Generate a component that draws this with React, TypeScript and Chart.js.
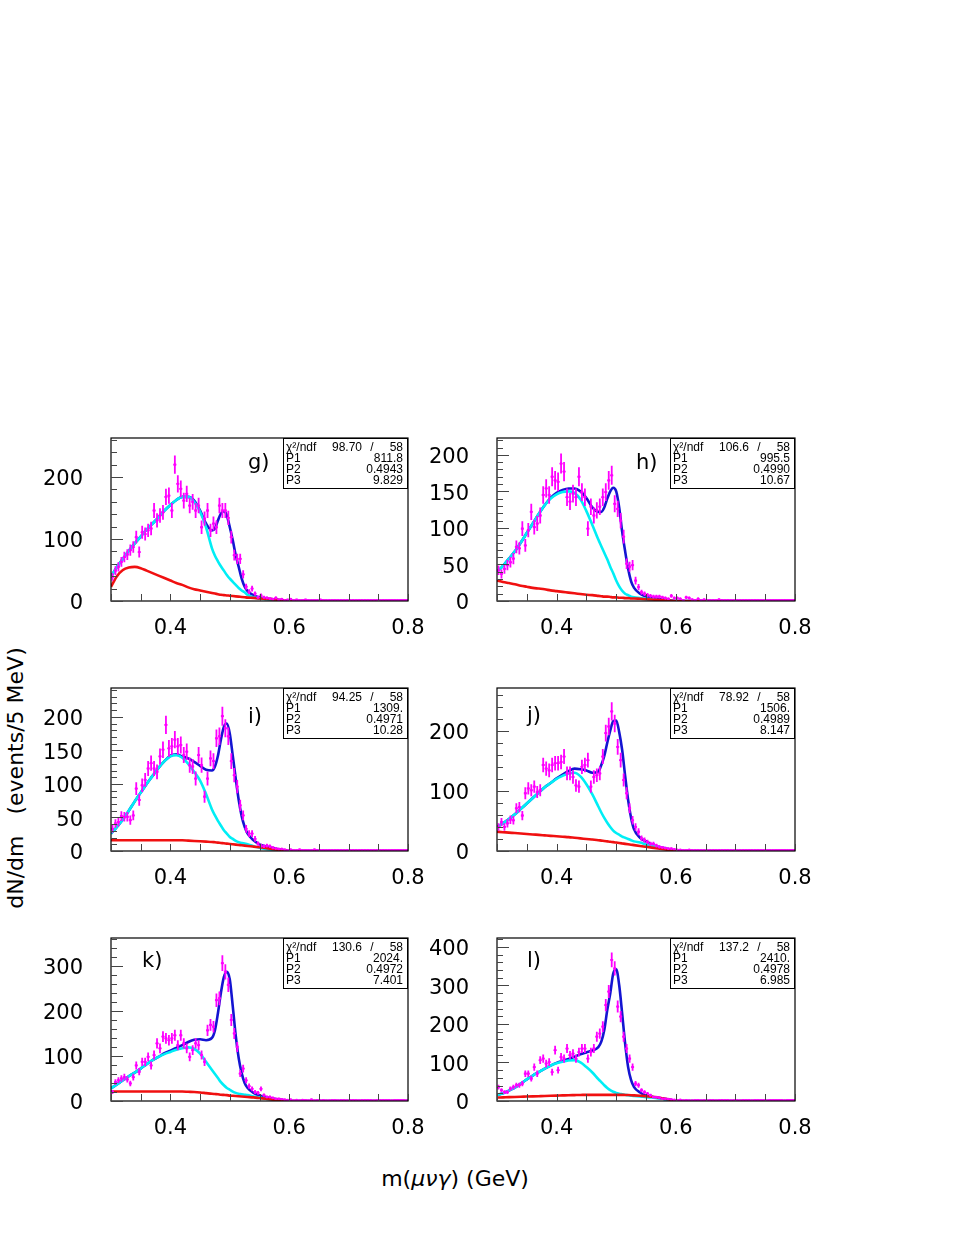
import React, { useEffect, useRef } from "react";
import { Chart, registerables } from "chart.js";

Chart.register(...registerables);

// ---------------- data ----------------
const BIN_START = 0.3;
const BIN_WIDTH = 0.005;
const X_MIN = 0.3;
const X_MAX = 0.8;
const X_TICK_LABELS = [0.4, 0.6, 0.8];

const CURVE_X = [0.30, 0.31, 0.32, 0.33, 0.34, 0.35, 0.36, 0.37, 0.38, 0.39, 0.40, 0.41, 0.42, 0.43, 0.44, 0.45, 0.46, 0.47, 0.475, 0.48, 0.485, 0.49, 0.495, 0.50, 0.505, 0.51, 0.515, 0.52, 0.525, 0.53, 0.54, 0.55, 0.56, 0.57, 0.58, 0.59, 0.60, 0.65, 0.70, 0.80];

// panel g
const G_DATA = [39, 49, 55, 63, 71, 75, 82, 87, 103, 79, 111, 108, 114, 117, 146, 130, 138, 143, 168, 170, 146, 220, 189, 181, 162, 173, 154, 160, 146, 154, 119, 133, 146, 114, 125, 119, 154, 146, 146, 134, 103, 74, 68, 68, 43, 23, 15, 20, 12, 6, 9, 6, 5,
  4, 3, 5, 2, 3, 1, 2, 3, 1, 2, 1, 0, 2, 1, 1, 0, 1, 2, 0, 1, 1, 0, 0, 1, 0, 1, 0, 0, 1, 0, 0, 0, 1, 0, 0, 0, 0, 1, 0, 0, 0, 0, 0, 1, 0, 0, 0];
const G_CYAN = [39, 55, 68, 81, 93, 104, 115, 125, 135, 146, 155, 163, 168, 168, 160, 144, 119, 85, 73, 64, 56, 49, 42, 36, 31, 26, 21, 17, 14, 10, 6, 4, 3, 2, 1, 1, 0, 0, 0, 0];
const G_BLUE = [39, 55, 68, 81, 93, 104, 115, 125, 135, 146, 155, 163, 168, 168, 162, 146, 125, 114, 117, 130, 141, 145, 138, 119, 98, 74, 55, 36, 23, 16, 9, 6, 4, 3, 2, 1, 0, 0, 0, 0];
const G_RED = [23, 40, 50, 54, 55, 53, 49, 45, 41, 37, 33, 29, 26, 22, 19, 17, 15, 13, 12, 11, 10, 9.5, 9, 8.5, 8, 7.5, 7, 6.5, 6, 5.5, 5, 4, 3.5, 3, 2, 1, 0.5, 0, 0, 0];
const G_YTICKS = [0, 100, 200];
const G_STATS = ["98.70", "58", "811.8", "0.4943", "9.829"];

// panel h
const H_DATA = [42, 37, 44, 49, 53, 58, 74, 72, 99, 76, 97, 122, 101, 106, 117, 145, 154, 145, 170, 165, 163, 188, 177, 142, 136, 147, 142, 170, 149, 142, 99, 129, 117, 124, 129, 142, 149, 165, 172, 133, 126, 110, 88, 51, 47, 49, 28, 19, 12, 10, 8, 7, 6, 6, 6, 5, 4, 3, 7, 4, 4, 3, 1, 5, 4,
  2, 1, 3, 1, 2, 0, 1, 1, 0, 2, 1, 0, 1, 0, 0, 1, 0, 0, 1, 0, 0, 1, 0, 0, 0, 1, 0, 0, 0, 0, 0, 1, 0, 0, 1];
const H_CYAN = [40, 48, 58, 68, 80, 93, 106, 119, 131, 140, 146, 149, 150, 148, 139, 123, 104, 84, 75, 66, 57, 47, 38, 28, 20, 14, 10, 8, 6, 5, 4, 3, 2, 1, 1, 0, 0, 0, 0, 0];
const H_BLUE = [40, 48, 58, 68, 80, 93, 106, 119, 131, 141, 148, 152, 154, 154, 150, 141, 128, 122, 122, 128, 140, 150, 155, 150, 128, 95, 68, 44, 27, 18, 10, 6, 4, 3, 2, 1, 0, 0, 0, 0];
const H_RED = [28, 26, 24.5, 23, 21, 19.5, 18, 17, 16, 14.5, 13.5, 12.5, 11.5, 10.5, 9.5, 8.5, 8, 7, 6.5, 6, 6, 5.5, 5, 5, 4.5, 4.5, 4, 4, 3.5, 3.5, 3, 2.5, 2, 1.5, 1, 0.5, 0, 0, 0, 0];
const H_YTICKS = [0, 50, 100, 150, 200];
const H_STATS = ["106.6", "58", "995.5", "0.4990", "10.67"];

// panel i
const I_DATA = [33, 41, 43, 52, 51, 51, 46, 53, 93, 76, 98, 106, 123, 131, 123, 118, 141, 151, 188, 153, 156, 166, 156, 158, 143, 148, 128, 126, 108, 143, 128, 81, 108, 138, 134, 168, 171, 201, 183, 171, 134, 113, 96, 68, 53, 33, 26, 26, 18, 11, 8, 7, 8, 7, 5, 4, 3,
  3, 2, 1, 2, 0, 1, 2, 1, 0, 1, 1, 2, 0, 1, 0, 1, 0, 1, 0, 0, 1, 0, 1, 0, 0, 1, 0, 0, 0, 1, 0, 0, 1, 0, 0, 0, 1, 0, 0, 0, 0, 1, 0];
const I_CYAN = [26, 36, 47, 60, 74, 87, 100, 112, 124, 134, 141, 143, 139, 130, 118, 105, 85, 62, 53, 45, 38, 31, 26, 21, 18, 15, 13, 12, 11, 10, 7, 5, 3, 2, 1, 0.5, 0, 0, 0, 0];
const I_BLUE = [26, 36, 47, 60, 74, 87, 100, 112, 124, 134, 142, 144, 141, 138, 133, 127, 121, 120, 126, 142, 166, 185, 190, 175, 142, 108, 76, 52, 36, 26, 16, 10, 7, 5, 3, 1.5, 0, 0, 0, 0];
const I_RED = [16, 16, 16, 16, 16, 16, 16, 16, 16, 16, 16, 16, 16, 15.5, 15, 14.5, 14, 13.5, 13, 12.5, 12, 11.5, 11, 10.5, 10, 9.5, 9, 8.5, 8, 7.5, 6.5, 5.5, 4.5, 3, 2, 1, 0, 0, 0, 0];
const I_YTICKS = [0, 50, 100, 150, 200];
const I_STATS = ["94.25", "58", "1309.", "0.4971", "10.28"];

// panel j
const J_DATA = [40, 48, 40, 46, 52, 51, 71, 73, 59, 96, 104, 101, 107, 98, 101, 143, 137, 134, 143, 146, 146, 148, 157, 129, 129, 123, 109, 107, 140, 143, 151, 107, 123, 126, 129, 157, 196, 207, 232, 212, 173, 151, 118, 96, 71, 51, 40, 32, 21, 18, 15, 12, 12, 9, 7, 6, 5, 4, 4,
  3, 2, 2, 1, 0, 2, 1, 1, 0, 1, 0, 1, 1, 0, 0, 1, 0, 0, 0, 1, 0, 0, 1, 0, 0, 0, 0, 1, 0, 0, 0, 0, 0, 1, 0, 0, 0, 0, 1, 0, 0];
const J_CYAN = [40, 46, 53, 61, 70, 79, 88, 97, 106, 113, 120, 125, 129, 130, 124, 111, 94, 74, 64, 55, 47, 40, 34, 30, 27, 24, 22, 20, 18, 16, 14, 11, 9, 7, 5, 2.5, 0, 0, 0, 0];
const J_BLUE = [40, 46, 53, 61, 70, 79, 88, 97, 106, 113, 121, 127, 133, 137, 136, 134, 130, 132, 143, 158, 180, 200, 216, 217, 198, 168, 125, 85, 55, 36, 22, 16, 11, 7, 5, 2.5, 0, 0, 0, 0];
const J_RED = [32, 31.3, 30.5, 29.8, 29, 28.3, 27.5, 26.8, 26, 25.2, 24.5, 23.7, 23, 22, 21, 20, 19, 18, 17.3, 16.7, 16, 15.3, 14.7, 14, 13.3, 12.6, 11.9, 11.2, 10.5, 9.8, 8.4, 7, 5.6, 4.2, 2.8, 1.4, 0, 0, 0, 0];
const J_YTICKS = [0, 100, 200];
const J_STATS = ["78.92", "58", "1506.", "0.4989", "8.147"];

// panel k
const K_DATA = [20, 42, 46, 50, 53, 48, 39, 53, 79, 65, 87, 87, 98, 79, 102, 128, 117, 143, 139, 135, 139, 146, 124, 146, 128, 117, 98, 113, 128, 124, 102, 87, 157, 169, 165, 224, 228, 306, 287, 258, 180, 150, 120, 61, 72, 46, 33, 27, 20, 18, 27, 13, 9, 9, 7, 5, 5,
  4, 3, 2, 3, 1, 2, 1, 2, 0, 1, 3, 1, 0, 1, 0, 1, 1, 0, 0, 1, 0, 0, 1, 0, 0, 0, 1, 0, 0, 0, 0, 1, 0, 0, 0, 0, 0, 1, 0, 0, 0, 0, 1];
const K_CYAN = [28, 37, 46, 55, 63, 72, 82, 91, 98, 104, 109, 114, 117, 119, 116, 105, 87, 69, 60, 51, 42, 35, 29, 25, 21, 18, 16, 15, 14, 13, 10, 8, 5, 3.5, 2, 1, 0, 0, 0, 0];
const K_BLUE = [28, 37, 46, 55, 63, 72, 82, 91, 98, 106, 112, 118, 124, 131, 136, 137, 135, 140, 157, 195, 240, 275, 287, 270, 210, 145, 95, 62, 40, 29, 18, 12, 9, 6, 4, 2, 0, 0, 0, 0];
const K_RED = [21, 21, 21, 21, 21, 21, 21, 21, 21, 21, 21, 21, 21, 20.5, 20, 19, 17.5, 16, 15.5, 15, 14, 13.5, 13, 12, 11.5, 11, 10.5, 10, 9.5, 9, 8, 6.5, 5, 3.5, 2, 1, 0, 0, 0, 0];
const K_YTICKS = [0, 100, 200, 300];
const K_STATS = ["130.6", "58", "2024.", "0.4972", "7.401"];

// panel l
const L_DATA = [36, 28, 23, 23, 32, 36, 41, 41, 45, 71, 71, 58, 88, 71, 106, 110, 97, 101, 75, 132, 80, 114, 110, 136, 119, 123, 110, 127, 136, 136, 110, 127, 136, 167, 175, 193, 249, 284, 366, 344, 245, 219, 167, 136, 110, 88, 45, 41, 28, 23, 19, 15, 10, 10, 9, 6, 6,
  5, 4, 3, 2, 3, 1, 2, 1, 1, 0, 2, 1, 0, 1, 0, 0, 1, 0, 2, 0, 0, 1, 0, 0, 1, 0, 0, 0, 1, 0, 0, 0, 0, 1, 0, 0, 0, 0, 0, 1, 0, 0, 0];
const L_CYAN = [15, 20, 27, 35, 45, 56, 66, 75, 84, 92, 98, 102, 105, 106, 100, 88, 74, 57, 49, 41, 34, 28, 24, 21, 19, 17.5, 16, 15, 14, 13, 12, 10, 9, 7, 5.5, 3, 0, 0, 0, 0];
const L_BLUE = [15, 20, 27, 35, 45, 56, 66, 75, 84, 92, 99, 104, 109, 115, 121, 126, 131, 140, 154, 184, 236, 279, 331, 342, 301, 227, 149, 88, 54, 36, 22, 14, 11, 8, 5.5, 3, 0, 0, 0, 0];
const L_RED = [9, 9.5, 10, 10.5, 11, 11.5, 12, 12.5, 13, 13.5, 14, 14.5, 15, 15.3, 15.6, 16, 16, 16, 16, 16, 16, 16, 16, 16, 16, 16, 15.7, 15.4, 15, 14.5, 13.5, 12.5, 11, 9, 6.5, 3.5, 0, 0, 0, 0];
const L_YTICKS = [0, 100, 200, 300, 400];
const L_STATS = ["137.2", "58", "2410.", "0.4978", "6.985"];

// ---------------- styles / layout ----------------
const MAGENTA = "#ff00ff";
const CYAN = "#00eef5";
const BLUE = "#1414d2";
const RED = "#f01010";
const TICK_FONT = "DejaVu Sans";
const STAT_FONT = '"Liberation Sans Narrow", "Liberation Sans", Arial, sans-serif';

const AXIS_W = 81;
const AXIS_H = 60;
const PAD_T = 18;
const PAD_R = 30;

const COLS = [{ L: 111, R: 408 }, { L: 497, R: 795 }];
const ROWS = [{ T: 438, B: 601 }, { T: 688, B: 851 }, { T: 938, B: 1101 }];

type PanelDef = {
  id: string;
  data: number[];
  cyan: number[];
  blue: number[];
  red: number[];
  yMax: number;
  yTicks: number[];
  major: number;
  minor: number;
  stats: string[];
  col: number;
  row: number;
  lab: [number, number];
};

const PANELS: PanelDef[] = [
  { id: "g", data: G_DATA, cyan: G_CYAN, blue: G_BLUE, red: G_RED, yMax: 263, yTicks: G_YTICKS, major: 100, minor: 20, stats: G_STATS, col: 0, row: 0, lab: [137, 26] },
  { id: "h", data: H_DATA, cyan: H_CYAN, blue: H_BLUE, red: H_RED, yMax: 223, yTicks: H_YTICKS, major: 50, minor: 10, stats: H_STATS, col: 1, row: 0, lab: [139, 26] },
  { id: "i", data: I_DATA, cyan: I_CYAN, blue: I_BLUE, red: I_RED, yMax: 243, yTicks: I_YTICKS, major: 50, minor: 10, stats: I_STATS, col: 0, row: 1, lab: [137, 30] },
  { id: "j", data: J_DATA, cyan: J_CYAN, blue: J_BLUE, red: J_RED, yMax: 271, yTicks: J_YTICKS, major: 100, minor: 20, stats: J_STATS, col: 1, row: 1, lab: [30, 29] },
  { id: "k", data: K_DATA, cyan: K_CYAN, blue: K_BLUE, red: K_RED, yMax: 362, yTicks: K_YTICKS, major: 100, minor: 20, stats: K_STATS, col: 0, row: 2, lab: [31, 24] },
  { id: "l", data: L_DATA, cyan: L_CYAN, blue: L_BLUE, red: L_RED, yMax: 423, yTicks: L_YTICKS, major: 100, minor: 20, stats: L_STATS, col: 1, row: 2, lab: [30, 24] },
];

function decorPlugin(p: PanelDef) {
  return {
    id: "rootDecor",
    afterDatasetsDraw(chart: any) {
      const { ctx, chartArea: a } = chart;
      const xs = chart.scales.x;
      const ys = chart.scales.y;
      // error bars
      ctx.save();
      ctx.beginPath();
      ctx.rect(a.left, a.top, a.right - a.left, a.bottom - a.top);
      ctx.clip();
      ctx.strokeStyle = MAGENTA;
      ctx.lineWidth = 1.8;
      p.data.forEach((v, i) => {
        const cx = BIN_START + (i + 0.5) * BIN_WIDTH;
        const px = xs.getPixelForValue(cx);
        const x0 = xs.getPixelForValue(cx - BIN_WIDTH / 2);
        const x1 = xs.getPixelForValue(cx + BIN_WIDTH / 2);
        const py = ys.getPixelForValue(v);
        const e = Math.sqrt(v);
        ctx.beginPath();
        ctx.moveTo(x0, py - (v === 0 ? 1 : 0));
        ctx.lineTo(x1, py - (v === 0 ? 1 : 0));
        if (e > 0) {
          ctx.moveTo(px, ys.getPixelForValue(v + e));
          ctx.lineTo(px, ys.getPixelForValue(Math.max(0, v - e)));
        }
        ctx.stroke();
      });
      ctx.restore();

      ctx.save();
      // frame
      ctx.strokeStyle = "#000";
      ctx.lineWidth = 1.2;
      ctx.strokeRect(a.left, a.top, a.right - a.left, a.bottom - a.top);
      // y ticks
      ctx.lineWidth = 1;
      ctx.strokeStyle = "#444";
      const per = Math.round(p.major / p.minor);
      for (let k = 0; k * p.minor <= p.yMax; k++) {
        const py = Math.round(ys.getPixelForValue(k * p.minor)) + 0.5;
        const len = k % per === 0 ? 12 : 6;
        ctx.beginPath();
        ctx.moveTo(a.left, py);
        ctx.lineTo(a.left + len, py);
        ctx.stroke();
      }
      // x ticks
      for (let k = 0; k <= 10; k++) {
        const px = Math.round(xs.getPixelForValue(X_MIN + k * 0.05)) + 0.5;
        ctx.beginPath();
        ctx.moveTo(px, a.bottom);
        ctx.lineTo(px, a.bottom - 7);
        ctx.stroke();
      }
      // stats box
      const bw = 125;
      const bh = 51;
      const bx = a.right - bw;
      const by = a.top;
      ctx.fillStyle = "#fff";
      ctx.fillRect(bx, by, bw, bh);
      ctx.strokeStyle = "#000";
      ctx.lineWidth = 1;
      ctx.strokeRect(bx + 0.5, by + 0.5, bw - 1, bh - 1);
      ctx.fillStyle = "#000";
      ctx.font = `12px ${STAT_FONT}`;
      ctx.textBaseline = "middle";
      const rows = [9.5, 20.5, 31.5, 42.5];
      ctx.textAlign = "left";
      ctx.fillText("\u03c7\u00b2/ndf", bx + 3, by + rows[0]);
      ctx.fillText("P1", bx + 3, by + rows[1]);
      ctx.fillText("P2", bx + 3, by + rows[2]);
      ctx.fillText("P3", bx + 3, by + rows[3]);
      ctx.textAlign = "right";
      ctx.fillText(p.stats[0], a.right - 46, by + rows[0]);
      ctx.fillText(p.stats[1], a.right - 5, by + rows[0]);
      ctx.fillText(p.stats[2], a.right - 5, by + rows[1]);
      ctx.fillText(p.stats[3], a.right - 5, by + rows[2]);
      ctx.fillText(p.stats[4], a.right - 5, by + rows[3]);
      ctx.textAlign = "center";
      ctx.fillText("/", a.right - 36, by + rows[0]);
      // panel label
      ctx.font = `21px "${TICK_FONT}"`;
      ctx.textAlign = "left";
      ctx.fillText(p.id + ")", a.left + p.lab[0], a.top + p.lab[1]);
      ctx.restore();
    },
  };
}

function curve(vals: number[]) {
  return CURVE_X.map((x, i) => ({ x, y: vals[i] }));
}

function Panel({ p }: { p: PanelDef }) {
  const ref = useRef<HTMLCanvasElement | null>(null);
  const { L, R } = COLS[p.col];
  const { T, B } = ROWS[p.row];
  const w = AXIS_W + (R - L) + PAD_R;
  const h = PAD_T + (B - T) + AXIS_H;

  useEffect(() => {
    if (!ref.current) return;
    const font = { family: TICK_FONT, size: 21 };
    const lineDs = (vals: number[], color: string) => ({
      data: curve(vals),
      showLine: true,
      borderColor: color,
      backgroundColor: color,
      borderWidth: 2.6,
      pointRadius: 0,
      fill: false,
      cubicInterpolationMode: "monotone" as const,
    });
    const chart = new Chart(ref.current, {
      type: "scatter",
      data: {
        datasets: [
          {
            data: p.data.map((v, i) => ({ x: BIN_START + (i + 0.5) * BIN_WIDTH, y: v })),
            pointRadius: 1.3,
            pointBorderWidth: 0,
            pointBackgroundColor: MAGENTA,
            showLine: false,
          },
          lineDs(p.red, RED),
          lineDs(p.cyan, CYAN),
          lineDs(p.blue, BLUE),
        ],
      },
      options: {
        animation: false,
        responsive: false,
        devicePixelRatio: 1,
        events: [],
        layout: { padding: { left: 0, right: PAD_R, top: PAD_T, bottom: 0 } },
        plugins: { legend: { display: false }, tooltip: { enabled: false } },
        scales: {
          x: {
            type: "linear",
            min: X_MIN,
            max: X_MAX,
            grid: { display: false, drawTicks: false },
            border: { display: false },
            ticks: {
              font,
              color: "#000",
              padding: 15,
              autoSkip: false,
              maxRotation: 0,
              minRotation: 0,
              callback: (v: any) => Number(v).toFixed(1),
            },
            afterBuildTicks: (s: any) => {
              s.ticks = X_TICK_LABELS.map((value) => ({ value }));
            },
            afterFit: (s: any) => {
              s.height = AXIS_H;
              s.paddingLeft = 0;
              s.paddingRight = 0;
            },
          },
          y: {
            type: "linear",
            min: 0,
            max: p.yMax,
            grid: { display: false, drawTicks: false },
            border: { display: false },
            ticks: {
              font,
              color: "#000",
              padding: 28,
              labelOffset: 3,
              autoSkip: false,
              callback: (v: any) => String(v),
            },
            afterBuildTicks: (s: any) => {
              s.ticks = p.yTicks.map((value) => ({ value }));
            },
            afterFit: (s: any) => {
              s.width = AXIS_W;
              s.paddingTop = 0;
              s.paddingBottom = 0;
            },
          },
        },
      } as any,
      plugins: [decorPlugin(p)],
    });
    return () => chart.destroy();
  }, [p]);

  return (
    <canvas
      ref={ref}
      width={w}
      height={h}
      style={{ position: "absolute", left: L - AXIS_W, top: T - PAD_T, width: w, height: h }}
    />
  );
}

export default function App() {
  return (
    <div
      style={{
        position: "absolute",
        left: 0,
        top: 0,
        width: 954,
        height: 1234,
        background: "#fff",
        fontFamily: '"DejaVu Sans", sans-serif',
        color: "#000",
      }}
    >
      {PANELS.map((p) => (
        <Panel key={p.id} p={p} />
      ))}
      <div
        style={{
          position: "absolute",
          left: 455,
          top: 1179,
          transform: "translate(-50%, -50%)",
          fontSize: 22,
          whiteSpace: "nowrap",
          lineHeight: 1,
        }}
      >
        m(<i>μνγ</i>) (GeV)
      </div>
      <div
        style={{
          position: "absolute",
          left: 16,
          top: 778,
          transform: "translate(-50%, -50%) rotate(-90deg)",
          fontSize: 22,
          whiteSpace: "pre",
          lineHeight: 1,
        }}
      >
        {"dN/dm   (events/5 MeV)"}
      </div>
    </div>
  );
}
